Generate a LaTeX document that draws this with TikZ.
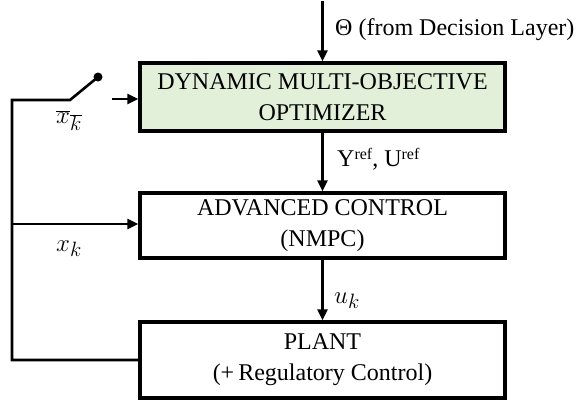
\documentclass[tikz,border=0pt]{standalone}
\usepackage{fontspec}
\setmainfont{Liberation Serif}
\usetikzlibrary{arrows.meta}
\definecolor{optgreen}{HTML}{E2EFD9}
\tikzset{
  blk/.style={draw, line width=3.2pt, minimum width=365pt, align=center,
    inner sep=0pt, font=\fontsize{24}{31}\selectfont},
  wire/.style={line width=2.6pt},
  arr/.style={wire, -{Triangle[length=11pt,width=10pt]}},
  lbl/.style={anchor=base west, inner sep=0pt, font=\fontsize{24}{28}\selectfont},
  mlbl/.style={anchor=base west, inner sep=0pt, font=\fontsize{28}{30}\selectfont}
}
\begin{document}
\begin{tikzpicture}[x=1pt,y=-1pt]
\useasboundingbox (0,0) rectangle (579,408);
\node[blk, fill=optgreen, minimum height=68pt] (opt) at (322.5,97) {DYNAMIC MULTI-OBJECTIVE\\OPTIMIZER};
\node[blk, minimum height=65pt] (adv) at (322.5,225.5) {ADVANCED CONTROL\\(NMPC)};
\node[blk, minimum height=76pt] (plant) at (322.5,360) {PLANT\\(+\,Regulatory Control)};

\coordinate (theta) at (322.5,1);
\coordinate (fbl) at (12,360);
\coordinate (swl) at (12,100);
\coordinate (swb) at (70,100);
\coordinate (swt) at (98,77);
\coordinate (shs) at (112,99);
\coordinate (xks) at (12,224);

\draw[arr] (theta) -- (opt.north);
\draw[arr] (opt.south) -- (adv.north);
\draw[arr] (adv.south) -- (plant.north);
\draw[wire] (plant.west) -- (fbl) -- (swl) -- (swb) -- (swt);
\fill (swt) circle (4.5pt);
\draw[arr] (shs) -- (opt.west |- shs);
\draw[arr] (xks) -- (adv.west |- xks);

\node[lbl] (thetalbl) at (335,35) {Θ (from Decision Layer)};
\node[lbl] (reflbl) at (337,166) {Y\raisebox{7pt}{\fontsize{16}{16}\selectfont ref}, U\raisebox{7pt}{\fontsize{16}{16}\selectfont ref}};
\node[mlbl] (uklbl) at (334,303) {$u_k$};
\node[mlbl] (xklbl) at (56,251) {$x_k$};
\node[mlbl] (xbarlbl) at (56,123) {$\overline{x}_{\overline{k}}$};
\end{tikzpicture}
\end{document}
